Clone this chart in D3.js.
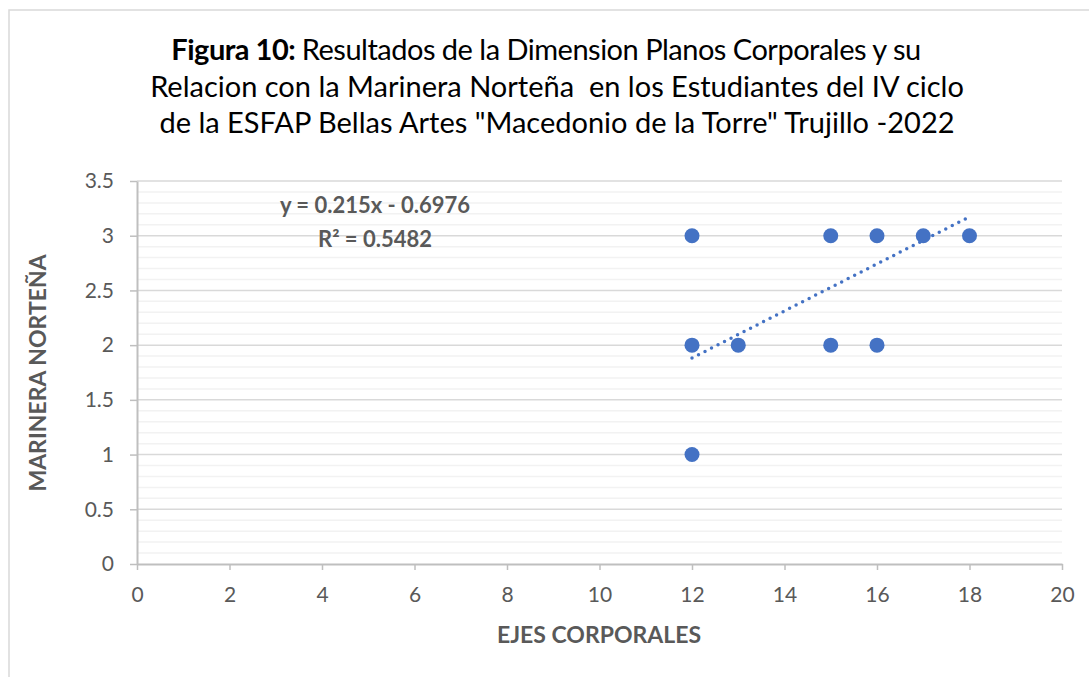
<!DOCTYPE html>
<meta charset="utf-8"/>
<style>
  html, body { margin: 0; padding: 0; background: #fff; }
  text { font-family: Lato, "Open Sans", sans-serif; fill: #595959; }
  .title text { fill: #000; }
</style>
<body>
<svg width="1089" height="677"></svg>
</body>
<script src="https://d3js.org/d3.v7.min.js"></script>
<script>

  // data
  var ejes = [12, 12, 12, 13, 15, 15, 16, 16, 17, 18]
  var marinera = [3, 2, 1, 2, 3, 2, 3, 2, 3, 3]
  var trendSlope = 0.215, trendIntercept = -0.6976
  var trendFrom = 12, trendTo = 18
  var xTicks = [0, 2, 4, 6, 8, 10, 12, 14, 16, 18, 20]
  var yTicks = [0, 0.5, 1, 1.5, 2, 2.5, 3, 3.5]
  var titleLines = [
    "Resultados de la Dimension Planos Corporales y su",
    "Relacion con la Marinera Norteña  en los Estudiantes del IV ciclo",
    "de la ESFAP Bellas Artes \"Macedonio de la Torre\" Trujillo -2022"
  ]

  var svg = d3.select("svg")

  var blue = "#4472C4"

  // chart frame (only top/left visible in the crop)
  svg.append("rect")
    .attr("x", 9).attr("y", 10)
    .attr("width", 1300).attr("height", 1000)
    .attr("fill", "#fff")
    .attr("stroke", "#d9d9d9")
    .attr("stroke-width", 1.5)

  var x = d3.scaleLinear().domain([0, 20]).range([137, 1062])
  var y = d3.scaleLinear().domain([0, 3.5]).range([564, 181])

  // minor gridlines every 0.1
  var minor = d3.range(0, 35).map(function (i) { return i / 10 }).filter(function (v) { return Math.round(v * 10) % 5 !== 0 })
  svg.append("g").selectAll("line")
    .data(minor)
    .enter().append("line")
    .attr("x1", x(0)).attr("x2", x(20))
    .attr("y1", function (d) { return y(d) })
    .attr("y2", function (d) { return y(d) })
    .attr("stroke", "#f2f2f2")
    .attr("stroke-width", 1.5)

  // major gridlines
  svg.append("g").selectAll("line")
    .data(yTicks.slice(1))
    .enter().append("line")
    .attr("x1", x(0)).attr("x2", x(20))
    .attr("y1", function (d) { return y(d) })
    .attr("y2", function (d) { return y(d) })
    .attr("stroke", "#d9d9d9")
    .attr("stroke-width", 1.5)

  // axes
  var xAxis = svg.append("g")
    .attr("transform", "translate(0," + y(0) + ")")
    .call(d3.axisBottom(x).tickValues(xTicks).tickSize(6).tickSizeOuter(0).tickPadding(17))
  var yAxis = svg.append("g")
    .attr("transform", "translate(" + x(0) + ",0)")
    .call(d3.axisLeft(y).tickValues(yTicks).tickFormat(d3.format("~g")).tickSize(7).tickSizeOuter(0).tickPadding(16))

  ;[xAxis, yAxis].forEach(function (g) {
    g.select(".domain").attr("stroke", "#bfbfbf").attr("stroke-width", 2)
    g.selectAll(".tick line").attr("stroke", "#bfbfbf").attr("stroke-width", 1.5)
    g.selectAll(".tick text")
      .attr("fill", "#595959")
      .style("font-family", "Lato, sans-serif")
      .style("font-size", "21px")
  })

  // trendline (dotted)
  svg.append("line")
    .attr("x1", x(trendFrom)).attr("y1", y(trendSlope * trendFrom + trendIntercept))
    .attr("x2", x(trendTo)).attr("y2", y(trendSlope * trendTo + trendIntercept))
    .attr("stroke", blue)
    .attr("stroke-width", 3.5)
    .attr("stroke-linecap", "round")
    .attr("stroke-dasharray", "0 7.3")

  // points
  svg.append("g").selectAll("circle")
    .data(ejes.map(function (v, i) { return [v, marinera[i]] }))
    .enter().append("circle")
    .attr("cx", function (d) { return x(d[0]) })
    .attr("cy", function (d) { return y(d[1]) })
    .attr("r", 7.5)
    .attr("fill", blue)

  // trendline label
  svg.append("text")
    .attr("x", 375).attr("y", 213)
    .attr("text-anchor", "middle")
    .style("font-size", "22px").style("font-weight", "bold")
    .text("y = " + trendSlope + "x - " + Math.abs(trendIntercept))
  svg.append("text")
    .attr("x", 375).attr("y", 247)
    .attr("text-anchor", "middle")
    .style("font-size", "22px").style("font-weight", "bold")
    .text("R² = 0.5482")

  // title
  var title = svg.append("g").attr("class", "title")
  titleLines.forEach(function (line, i) {
    var t = title.append("text")
      .attr("x", i === 0 ? 546 : 557).attr("y", 60 + i * 36.5)
      .attr("text-anchor", "middle")
      .style("font-size", "29px")
      .style("letter-spacing", i === 0 ? "-0.5px" : "0px")
    if (i === 0) t.append("tspan").style("font-weight", "bold").text("Figura 10: ")
    t.append("tspan").attr("xml:space", "preserve").text(line)
  })

  // axis titles
  svg.append("text")
    .attr("x", 599).attr("y", 643)
    .attr("text-anchor", "middle")
    .style("font-size", "23px").style("font-weight", "bold")
    .text("EJES CORPORALES")
  svg.append("text")
    .attr("transform", "translate(46,373) rotate(-90)")
    .attr("text-anchor", "middle")
    .style("font-size", "23px").style("font-weight", "bold")
    .text("MARINERA NORTEÑA")

</script>
